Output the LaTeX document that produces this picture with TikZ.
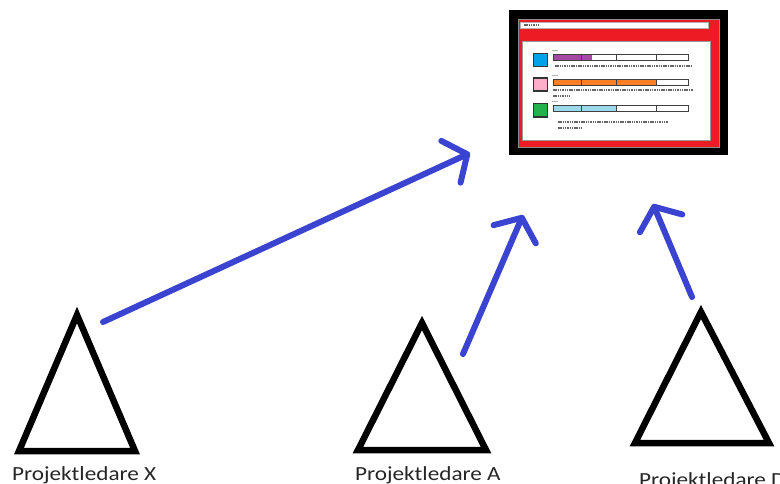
\documentclass[tikz,border=0pt]{standalone}
\usepackage{fontspec}
\setmainfont{Carlito}[FakeStretch=1.16]
\usetikzlibrary{arrows.meta,calc}
\definecolor{penblue}{RGB}{58,68,208}
\definecolor{screenred}{RGB}{237,28,36}
\definecolor{cellblue}{RGB}{0,162,232}
\definecolor{cellpink}{RGB}{255,174,201}
\definecolor{cellgreen}{RGB}{34,177,76}
\definecolor{barpurple}{RGB}{163,73,164}
\definecolor{barorange}{RGB}{255,127,39}
\definecolor{barcyan}{RGB}{153,217,234}
\tikzset{
  pen/.style={penblue,line width=6pt,line cap=round,
    -{Straight Barb[length=18pt,width=46pt,round]}},
  person/.style={line width=6.5pt,line join=miter},
  name tag/.style={font=\fontsize{20}{24}\selectfont,text=black!85,
    inner sep=0pt,anchor=base west},
  cell/.style={draw=black!80,line width=1.2pt},
  bar/.style={draw=black!75,line width=0.8pt},
  scribble/.style={black!60,line width=1.2pt,dash pattern=on 1.5pt off 0.8pt},
}

\begin{document}
\begin{tikzpicture}[x=1pt,y=-1pt]
  \useasboundingbox (0,0) rectangle (780,484);
  \clip (0,0) rectangle (780,484);
  % screen
  \node [fill=black,minimum width=219pt,minimum height=145pt,
    inner sep=0pt,anchor=north west]
    at (509,10) (screen) {}
  ;
  \draw [fill=screenred,draw=black!45,line width=0.6pt]
    (518,19) rectangle (719,147)
  ;
  \draw [fill=white,draw=black!30,line width=0.5pt]
    (520,22) rectangle (708,28)
  ;
  \draw [scribble] (524,25) -- (540,25);
  \draw [fill=white,draw=black!40,line width=0.5pt]
    (522,41) rectangle (710,140)
  ;
  % row 1
  \draw [cell,fill=cellblue] (533.5,53.5) rectangle (547.5,66.5);
  \draw [black!30,line width=0.8pt] (552,50) -- (558,50);
  \fill [barpurple] (553,54) rectangle (592,60);
  \draw [bar]
    (553,54) rectangle (688,60)
    (581,54) -- (581,60)
    (616,54) -- (616,60)
    (656,54) -- (656,60)
  ;
  \draw [scribble] (555,66) -- (692,66);
  % row 2
  \draw [cell,fill=cellpink] (533.5,78) rectangle (547.5,91);
  \draw [black!30,line width=0.8pt] (552,75) -- (558,75);
  \fill [barorange] (553,79) rectangle (656,85);
  \draw [bar]
    (553,79) rectangle (688,85)
    (581,79) -- (581,85)
    (616,79) -- (616,85)
    (656,79) -- (656,85)
  ;
  \draw [scribble] (553,90) -- (693,90);
  \draw [scribble] (553,96) -- (570,96);
  % row 3
  \draw [cell,fill=cellgreen] (533.5,103.5) rectangle (547.5,117);
  \draw [black!30,line width=0.8pt] (552,101) -- (558,101);
  \fill [barcyan] (553,105) rectangle (616,111);
  \draw [bar]
    (553,105) rectangle (688,111)
    (581,105) -- (581,111)
    (616,105) -- (616,111)
    (656,105) -- (656,111)
  ;
  \draw [scribble] (558,122) -- (668,122);
  \draw [scribble] (558,128) -- (582,128);
  % projektledare X
  \draw [person]
    (77,315) coordinate (X top)
    -- (135,451) coordinate (X right)
    -- (19,451) coordinate (X left)
    -- cycle
  ;
  \node [name tag] (X label) at (12,480) {Projektledare X};
  % projektledare A
  \draw [person]
    (422,323) coordinate (A top)
    -- (486,450) coordinate (A right)
    -- (358,450) coordinate (A left)
    -- cycle
  ;
  \node [name tag] (A label) at (355,480) {Projektledare A};
  % projektledare D
  \draw [person]
    (701,312) coordinate (D top)
    -- (769,443) coordinate (D right)
    -- (635,443) coordinate (D left)
    -- cycle
  ;
  \node [name tag] (D label) at (639,486) {Projektledare D};
  % arrows
  \coordinate (X from) at (103,322);
  \coordinate (X to) at (470,153);
  \coordinate (A from) at (463,354);
  \coordinate (A to) at (523,215);
  \coordinate (D from) at (692,297);
  \coordinate (D to) at (653,204);
  \draw [pen] (X from) -- (X to);
  \draw [pen] (A from) -- (A to);
  \draw [pen] (D from) -- (D to);
\end{tikzpicture}
\end{document}
